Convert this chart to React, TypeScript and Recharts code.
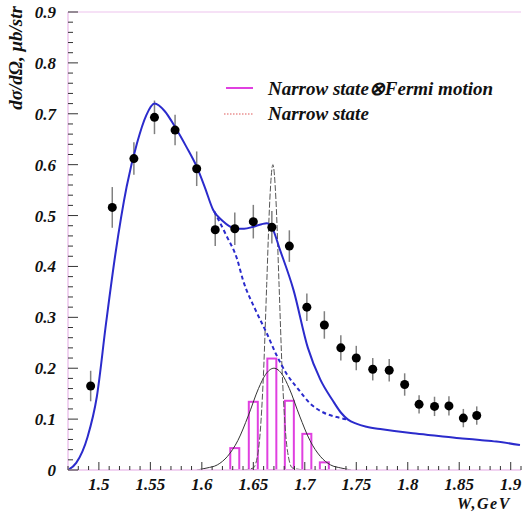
import React from "react";
import {
  ComposedChart,
  Line,
  Bar,
  Scatter,
  ErrorBar,
  XAxis,
  YAxis,
  ReferenceLine,
} from "recharts";

// measured cross section (black points)
const pointW = [1.492, 1.513, 1.534, 1.554, 1.574, 1.595, 1.613, 1.632, 1.650, 1.668, 1.685, 1.702, 1.719, 1.735, 1.750, 1.766, 1.782, 1.797, 1.811, 1.826, 1.840, 1.854, 1.867];
const pointY = [0.165, 0.516, 0.612, 0.693, 0.668, 0.592, 0.472, 0.474, 0.488, 0.477, 0.440, 0.320, 0.285, 0.240, 0.220, 0.198, 0.196, 0.168, 0.129, 0.125, 0.126, 0.102, 0.107];
const pointErr = [0.03, 0.04, 0.032, 0.033, 0.03, 0.034, 0.032, 0.032, 0.033, 0.032, 0.031, 0.027, 0.027, 0.025, 0.024, 0.022, 0.022, 0.022, 0.018, 0.019, 0.019, 0.018, 0.018];

// narrow state (x) Fermi motion, solid blue
const fermiW = [1.470, 1.478, 1.489, 1.498, 1.507, 1.516, 1.527, 1.537, 1.546, 1.554, 1.564, 1.574, 1.585, 1.595, 1.603, 1.611, 1.620, 1.632, 1.641, 1.650, 1.658, 1.663, 1.668, 1.676, 1.689, 1.703, 1.715, 1.727, 1.735, 1.742, 1.750, 1.760, 1.775, 1.805, 1.830, 1.853, 1.870, 1.886, 1.909];
const fermiY = [0, 0.014, 0.065, 0.144, 0.289, 0.424, 0.557, 0.642, 0.697, 0.720, 0.705, 0.674, 0.635, 0.596, 0.555, 0.511, 0.49, 0.475, 0.474, 0.478, 0.483, 0.485, 0.477, 0.432, 0.354, 0.240, 0.178, 0.137, 0.113, 0.099, 0.091, 0.085, 0.080, 0.072, 0.067, 0.062, 0.059, 0.056, 0.049];

// background without the narrow state, dashed blue
const bgW = [1.612, 1.624, 1.634, 1.640, 1.652, 1.663, 1.672, 1.682, 1.694, 1.705, 1.718, 1.731, 1.742];
const bgY = [0.508, 0.46, 0.416, 0.373, 0.315, 0.269, 0.228, 0.190, 0.158, 0.131, 0.113, 0.104, 0.099];

// narrow state line shape, dashed grey
const narrowW = [1.640, 1.650, 1.655, 1.660, 1.663, 1.666, 1.669, 1.672, 1.675, 1.678, 1.683, 1.688, 1.700];
const narrowY = [0, 0.004, 0.04, 0.195, 0.364, 0.53, 0.6, 0.53, 0.364, 0.195, 0.04, 0.004, 0];

// smeared narrow state, thin black
const smearW = [1.595, 1.605, 1.615, 1.625, 1.635, 1.645, 1.655, 1.662, 1.670, 1.678, 1.685, 1.695, 1.705, 1.715, 1.725, 1.735, 1.745];
const smearY = [0, 0.004, 0.010, 0.027, 0.058, 0.106, 0.160, 0.188, 0.200, 0.188, 0.160, 0.106, 0.058, 0.027, 0.010, 0.004, 0];

// histogram (magenta)
const binW = [1.632, 1.650, 1.668, 1.685, 1.702, 1.719];
const binH = [0.043, 0.134, 0.219, 0.136, 0.071, 0.015];

const xTicks = Array.from({ length: 45 }, (_, i) => Number((1.47 + i * 0.01).toFixed(2)));
const yTicks = Array.from({ length: 46 }, (_, i) => Number((i * 0.02).toFixed(2)));
const yMajor = [0, 0.1, 0.2, 0.3, 0.4, 0.5, 0.6, 0.7, 0.8, 0.9];

const points = pointW.map((w, i) => ({ w, y: pointY[i], err: pointErr[i] }));
const fermi = fermiW.map((w, i) => ({ w, v: fermiY[i] }));
const bg = bgW.map((w, i) => ({ w, v: bgY[i] }));
const narrow = narrowW.map((w, i) => ({ w, v: narrowY[i] }));
const smear = smearW.map((w, i) => ({ w, v: smearY[i] }));
const bins = binW.map((w, i) => ({ w, h: binH[i] }));

const FONT = '"Liberation Serif", "Times New Roman", serif';
const BLUE = "#2b2bcc";
const PINK = "#edc4ed";
const BIN_W = 9;

function XTick(props: any) {
  const { x, y, payload } = props;
  const v = payload.value as number;
  const major = Math.round(v * 100) % 5 === 0;
  return (
    <g>
      <line x1={x} x2={x} y1={y} y2={y - (major ? 8 : 4)} stroke="#333" strokeWidth={1} />
      {major ? (
        <text x={x} y={y + 20} textAnchor="middle" fontFamily={FONT} fontStyle="italic" fontWeight="bold" fontSize={17} fill="#111">
          {String(Number(v.toFixed(2)))}
        </text>
      ) : null}
    </g>
  );
}

function YTick(props: any) {
  const { x, y, payload } = props;
  const v = payload.value as number;
  const major = yMajor.some((m) => Math.abs(m - v) < 1e-6);
  return (
    <g>
      <line x1={x} x2={x + (major ? 10 : 5)} y1={y} y2={y} stroke="#333" strokeWidth={1} />
      {major ? (
        <text x={x - 12} y={y + 6} textAnchor="end" fontFamily={FONT} fontStyle="italic" fontWeight="bold" fontSize={17} fill="#111">
          {String(v)}
        </text>
      ) : null}
    </g>
  );
}

// keep the bar centred on its bin, but with a fixed outline width
function BinShape(props: any) {
  const { x, y, width, height } = props;
  const cx = x + width / 2;
  return (
    <rect x={cx - BIN_W / 2} y={y} width={BIN_W} height={height} fill="none" stroke="#e040e0" strokeWidth={2} />
  );
}

export default function App() {
  return (
    <div style={{ position: "absolute", left: 0, top: 0, width: 523, height: 513, background: "#fff", overflow: "hidden" }}>
      <ComposedChart
        width={523}
        height={513}
        data={bins}
        barCategoryGap={0}
        barGap={0}
        margin={{ top: 12, right: 2, bottom: 0, left: 0 }}
      >
        <XAxis
          dataKey="w"
          type="number"
          domain={[1.47, 1.91]}
          allowDataOverflow
          ticks={xTicks}
          interval={0}
          tickSize={0}
          tickMargin={0}
          tick={<XTick />}
          axisLine={{ stroke: PINK, strokeWidth: 1.5 }}
          height={43}
        />
        <YAxis
          type="number"
          domain={[0, 0.9]}
          allowDataOverflow
          ticks={yTicks}
          interval={0}
          tickSize={0}
          tickMargin={0}
          tick={<YTick />}
          axisLine={{ stroke: PINK, strokeWidth: 1.5 }}
          width={68}
        />
        <ReferenceLine y={0.9} stroke={PINK} strokeWidth={1.2} />
        <Bar dataKey="h" shape={<BinShape />} isAnimationActive={false} />
        <Line data={smear} dataKey="v" type="monotone" stroke="#333" strokeWidth={1} dot={false} isAnimationActive={false} />
        <Line data={narrow} dataKey="v" type="monotone" stroke="#555" strokeWidth={1} strokeDasharray="6 2" dot={false} isAnimationActive={false} />
        <Scatter
          data={points}
          dataKey="y"
          isAnimationActive={false}
          shape={(p: any) => <circle cx={p.cx} cy={p.cy} r={4.5} fill="#000" />}
        >
          <ErrorBar dataKey="err" direction="y" width={0} stroke="#808080" strokeWidth={1.5} />
        </Scatter>
        <Line data={bg} dataKey="v" type="monotone" stroke={BLUE} strokeWidth={2} strokeDasharray="4 3" dot={false} isAnimationActive={false} />
        <Line data={fermi} dataKey="v" type="monotone" stroke={BLUE} strokeWidth={2} dot={false} isAnimationActive={false} />
      </ComposedChart>
      <svg width={523} height={513} style={{ position: "absolute", left: 0, top: 0, pointerEvents: "none" }}>
        <text x={22} y={58} transform="rotate(-90, 22, 58)" textAnchor="middle" fontFamily={FONT} fontStyle="italic" fontWeight="bold" fontSize={19} fill="#111">
          dσ/dΩ, μb/str
        </text>
        <text x={457} y={509} fontFamily={FONT} fontStyle="italic" fontWeight="bold" fontSize={16} letterSpacing={1.5} fill="#111">
          W,GeV
        </text>
        <line x1={226} x2={253} y1={88} y2={88} stroke="#e040e0" strokeWidth={2} />
        <text x={268} y={95} fontFamily={FONT} fontStyle="italic" fontWeight="bold" fontSize={19} fill="#111">
          Narrow state⊗Fermi motion
        </text>
        <line x1={224} x2={253} y1={114} y2={114} stroke="#e05a5a" strokeWidth={1.2} strokeDasharray="1.5 1.5" />
        <text x={268} y={120} fontFamily={FONT} fontStyle="italic" fontWeight="bold" fontSize={19} fill="#111">
          Narrow state
        </text>
      </svg>
    </div>
  );
}
